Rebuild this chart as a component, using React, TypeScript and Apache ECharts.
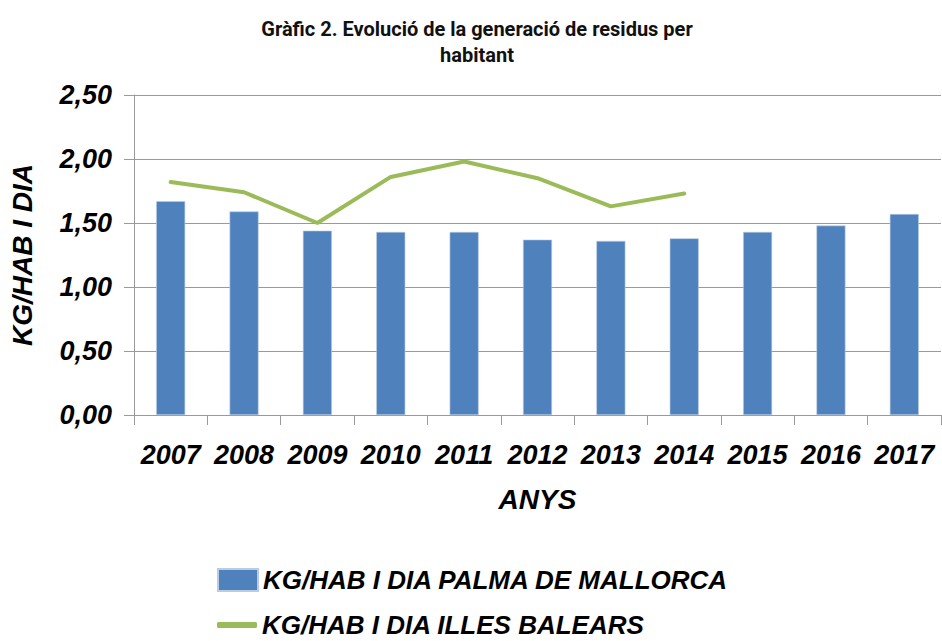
import React, { useEffect, useRef } from "react";
import * as echarts from "echarts";

const years = ["2007", "2008", "2009", "2010", "2011", "2012", "2013", "2014", "2015", "2016", "2017"];
const palmaValues = [1.67, 1.59, 1.44, 1.43, 1.43, 1.37, 1.36, 1.38, 1.43, 1.48, 1.57];
const balearsValues = [1.82, 1.74, 1.5, 1.86, 1.98, 1.85, 1.63, 1.73, null, null, null];
const seriesNames = ["KG/HAB I DIA PALMA DE MALLORCA", "KG/HAB I DIA ILLES BALEARS"];
const titleText = "Gràfic 2. Evolució de la generació de residus per\nhabitant";
const yAxisName = "KG/HAB I DIA";
const xAxisName = "ANYS";

const deco = "'Liberation Sans', Arimo, sans-serif";

const decoText = (size: number) => ({
  fontFamily: deco,
  fontStyle: "italic",
  fontWeight: "bold",
  fontSize: size,
  color: "#000",
});

export default function App() {
  const ref = useRef<HTMLDivElement>(null);
  useEffect(() => {
    if (!ref.current) return;
    const chart = echarts.init(ref.current, undefined, { renderer: "svg" });
    chart.setOption({
      animation: false,
      backgroundColor: "#ffffff",
      title: {
        text: titleText,
        left: 472,
        textAlign: "center",
        top: 11,
        textStyle: {
          fontFamily: "Roboto, 'DejaVu Sans', sans-serif",
          fontWeight: "bold",
          fontSize: 20,
          lineHeight: 26,
          color: "#111",
        },
      },
      grid: { left: 132, right: 1, top: 95, height: 320, containLabel: false },
      legend: [
        {
          orient: "vertical",
          left: 212,
          top: 562,
          itemWidth: 40,
          itemHeight: 22,
          itemGap: 10,
          textStyle: decoText(26),
          data: [{ name: seriesNames[0], icon: "rect" }],
        },
        {
          orient: "vertical",
          left: 212,
          top: 607,
          itemWidth: 40,
          itemHeight: 6,
          itemGap: 10,
          textStyle: decoText(26),
          data: [{ name: seriesNames[1], icon: "roundRect" }],
        },
      ],
      xAxis: {
        type: "category",
        data: years,
        name: xAxisName,
        nameLocation: "middle",
        nameGap: 70,
        nameTextStyle: decoText(28),
        axisLine: { show: true, lineStyle: { color: "#9a9a9a", width: 1 } },
        axisTick: { show: true, alignWithLabel: false, length: 10, lineStyle: { color: "#9a9a9a" } },
        axisLabel: {
          interval: 0,
          margin: 26,
          ...decoText(27),
        },
      },
      yAxis: {
        type: "value",
        min: 0,
        max: 2.5,
        interval: 0.5,
        name: yAxisName,
        nameLocation: "middle",
        nameGap: 98,
        nameRotate: 90,
        nameTextStyle: decoText(28),
        axisLine: { show: true, lineStyle: { color: "#9a9a9a", width: 1 } },
        axisTick: { show: true, length: 10, lineStyle: { color: "#9a9a9a" } },
        splitLine: { show: true, lineStyle: { color: "#9a9a9a", width: 1 } },
        axisLabel: {
          margin: 22,
          ...decoText(27),
          formatter: (v: number) => v.toFixed(2).replace(".", ","),
        },
      },
      series: [
        {
          name: seriesNames[0],
          type: "bar",
          data: palmaValues,
          barWidth: 29,
          itemStyle: { color: "#4F81BD", borderColor: "#b8cce4", borderWidth: 0.6 },
        },
        {
          name: seriesNames[1],
          type: "line",
          data: balearsValues,
          symbol: "none",
          connectNulls: false,
          lineStyle: { color: "#9BBB59", width: 4, cap: "round" },
          itemStyle: { color: "#9BBB59" },
        },
      ],
    });
    return () => chart.dispose();
  }, []);
  return (
    <div
      ref={ref}
      style={{ position: "fixed", left: 0, top: 0, width: 942, height: 641 }}
    />
  );
}
